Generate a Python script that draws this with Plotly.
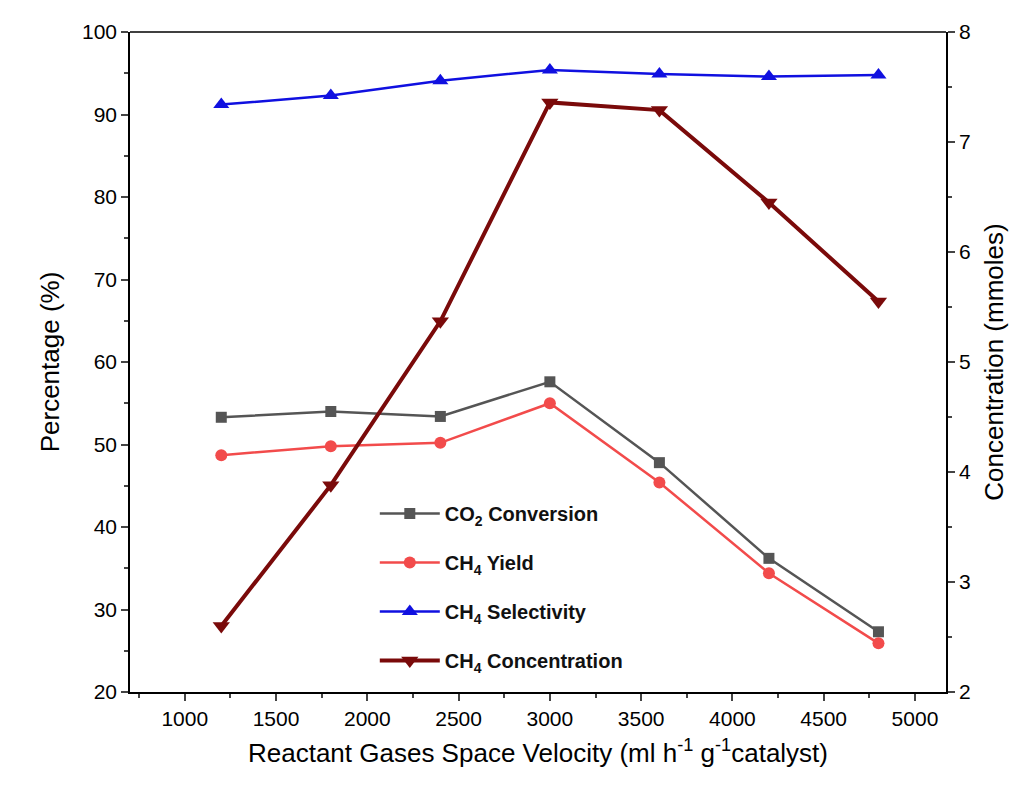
import plotly.graph_objects as go

velocity = [1200, 1800, 2400, 3000, 3600, 4200, 4800]
co2_conv = [53.3, 54.0, 53.4, 57.6, 47.8, 36.2, 27.3]
ch4_yield = [48.7, 49.8, 50.2, 55.0, 45.4, 34.4, 25.9]
ch4_sel = [91.2, 92.3, 94.1, 95.4, 94.9, 94.6, 94.8]
ch4_conc = [2.6, 3.88, 5.37, 7.36, 7.29, 6.45, 5.55]

fig = go.Figure()
fig.add_trace(go.Scatter(x=velocity, y=co2_conv, name="<b>CO<sub>2</sub> Conversion</b>",
                         legendgroup="a", mode="lines+markers", line=dict(color="#555555", width=2.5),
                         marker=dict(symbol="square", size=11, color="#555555")))
fig.add_trace(go.Scatter(x=velocity, y=ch4_yield, name="<b>CH<sub>4</sub> Yield</b>",
                         legendgroup="b", mode="lines+markers", line=dict(color="#f24b4b", width=2.5),
                         marker=dict(symbol="circle", size=12, color="#f24b4b")))
fig.add_trace(go.Scatter(x=velocity, y=ch4_sel, name="<b>CH<sub>4</sub> Selectivity</b>",
                         legendgroup="c", mode="lines+markers", line=dict(color="#1010e0", width=2.5),
                         marker=dict(symbol="triangle-up", size=14, color="#1010e0")))
fig.add_trace(go.Scatter(x=velocity, y=ch4_conc, name="<b>CH<sub>4</sub> Concentration</b>",
                         legendgroup="d", yaxis="y2", mode="lines+markers", line=dict(color="#7a0a0a", width=4),
                         marker=dict(symbol="triangle-down", size=15, color="#7a0a0a")))

axis_common = dict(showline=True, linecolor="black", linewidth=1.5, mirror=False,
                   ticks="outside", ticklen=7, tickwidth=1.5, showgrid=False, zeroline=False,
                   tickfont=dict(size=21, color="black"))

fig.update_layout(
    width=1035, height=802,
    paper_bgcolor="white", plot_bgcolor="white",
    font=dict(family="Liberation Sans, Arial", color="black"),
    margin=dict(l=122, r=97, t=24, b=118),
    showlegend=True,
    legend=dict(x=0.3, y=0.3, xanchor="left", yanchor="top", bgcolor="rgba(0,0,0,0)",
                font=dict(size=20, color="#111111"), tracegroupgap=20, itemwidth=60),
    xaxis=dict(range=[700, 5170], tickvals=list(range(1000, 5001, 500)),
               title=dict(text="Reactant Gases Space Velocity (ml h<sup>-1</sup> g<sup>-1</sup>catalyst)",
                          font=dict(size=26)),
               minor=dict(ticks="outside", ticklen=4, dtick=250), **axis_common),
    yaxis=dict(range=[20, 100], dtick=10, title=dict(text="Percentage (%)", font=dict(size=26)),
               minor=dict(ticks="outside", ticklen=4, dtick=5), **axis_common),
    yaxis2=dict(range=[2, 8], dtick=1, overlaying="y", side="right",
                title=dict(text="Concentration (mmoles)", font=dict(size=26)),
                minor=dict(ticks="outside", ticklen=4, dtick=0.5), **axis_common),
)
fig.add_shape(type="line", xref="paper", yref="paper", x0=0, x1=1, y0=1, y1=1,
              line=dict(color="black", width=1.5))

fig.write_html("out.html")
